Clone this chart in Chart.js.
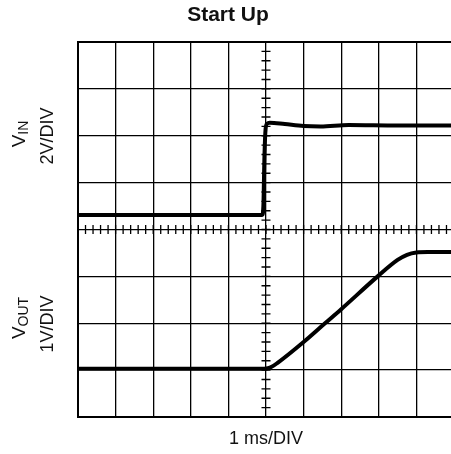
<!DOCTYPE html>
<html>
<head>
<meta charset="utf-8">
<script src="https://cdn.jsdelivr.net/npm/chart.js@4"></script>
<style>
  html, body { margin: 0; padding: 0; background: #fff; overflow: hidden; }
  #wrap { width: 460px; height: 454px; }
</style>
</head>
<body>
<div id="wrap"><canvas id="scope" width="460" height="454"></canvas></div>
<script>
// time in divisions (1 ms/DIV), amplitude in divisions from the bottom of the screen
const vinTime = [0, 4.9, 4.93, 4.96, 4.99, 5.03, 5.1, 5.5, 6.0, 6.45, 7.2, 8.5, 10];
const vinLevel = [4.31, 4.31, 4.5, 5.6, 6.15, 6.26, 6.28, 6.25, 6.21, 6.2, 6.23, 6.22, 6.22];

const voutTime = [0, 4.95, 5.05, 5.15, 5.3, 6.0, 6.57, 7.0, 7.97, 8.5, 8.75, 9.0, 9.3, 10];
const voutLevel = [1.03, 1.03, 1.04, 1.07, 1.15, 1.6, 2.0, 2.3, 3.0, 3.35, 3.46, 3.51, 3.52, 3.52];

const xDivs = [0, 10];
const yDivs = [0, 8];

const titleText = "Start Up";
const xLabel = "1 ms/DIV";
const vinLabel = ["V", "IN", "2V/DIV"];
const voutLabel = ["V", "OUT", "1V/DIV"];

const toPoints = (xs, ys) => xs.map((x, i) => ({ x, y: ys[i] }));
const FONT = "'Liberation Sans', Arial, Helvetica, sans-serif";

// minor ticks along the centre cross-hair
const centerTicks = {
  id: "centerTicks",
  beforeDatasetsDraw(chart) {
    const { ctx, scales } = chart;
    const sx = scales.x, sy = scales.y;
    const cx = sx.getPixelForValue((xDivs[0] + xDivs[1]) / 2);
    const cy = sy.getPixelForValue((yDivs[0] + yDivs[1]) / 2);
    ctx.save();
    ctx.strokeStyle = "#000";
    ctx.lineWidth = 1.3;
    ctx.beginPath();
    for (let i = xDivs[0] * 5; i <= xDivs[1] * 5; i++) {
      const px = sx.getPixelForValue(i / 5);
      ctx.moveTo(px, cy - 4.5);
      ctx.lineTo(px, cy + 4.5);
    }
    for (let i = yDivs[0] * 5; i <= yDivs[1] * 5; i++) {
      const py = sy.getPixelForValue(i / 5);
      ctx.moveTo(cx - 4.5, py);
      ctx.lineTo(cx + 4.5, py);
    }
    ctx.stroke();
    ctx.restore();
  },
};

function drawSubLabel(ctx, parts, x, y) {
  ctx.save();
  ctx.translate(x, y);
  ctx.rotate(-Math.PI / 2);
  ctx.fillStyle = "#111";
  ctx.textBaseline = "alphabetic";
  ctx.textAlign = "left";
  ctx.font = "19px " + FONT;
  const wMain = ctx.measureText(parts[0]).width;
  ctx.font = "14px " + FONT;
  const wSub = ctx.measureText(parts[1]).width;
  const start = -(wMain + wSub) / 2;
  ctx.font = "19px " + FONT;
  ctx.fillText(parts[0], start, 0);
  ctx.font = "14px " + FONT;
  ctx.fillText(parts[1], start + wMain, 3);
  ctx.restore();
}

function drawRotated(ctx, text, x, y) {
  ctx.save();
  ctx.translate(x, y);
  ctx.rotate(-Math.PI / 2);
  ctx.fillStyle = "#111";
  ctx.textAlign = "center";
  ctx.textBaseline = "alphabetic";
  ctx.font = "18px " + FONT;
  ctx.fillText(text, 0, 0);
  ctx.restore();
}

const labels = {
  id: "labels",
  afterDraw(chart) {
    const { ctx } = chart;
    ctx.save();
    ctx.fillStyle = "#111";
    ctx.textAlign = "center";
    ctx.textBaseline = "middle";
    ctx.font = "bold 21px " + FONT;
    ctx.fillText(titleText, 228, 15);
    ctx.font = "18px " + FONT;
    ctx.fillText(xLabel, 266, 439);
    ctx.restore();

    drawSubLabel(ctx, vinLabel, 25, 134);
    drawRotated(ctx, vinLabel[2], 53, 136);
    drawSubLabel(ctx, voutLabel, 25, 318);
    drawRotated(ctx, voutLabel[2], 53, 324);
  },
};

const edgeWidth = (c, lo, hi) => (c.tick && (c.tick.value === lo || c.tick.value === hi) ? 2 : 1.3);

new Chart(document.getElementById("scope"), {
  type: "scatter",
  data: {
    datasets: [
      {
        label: "VIN",
        data: toPoints(vinTime, vinLevel),
        showLine: true,
        borderColor: "#000",
        borderWidth: 4,
        pointRadius: 0,
        cubicInterpolationMode: "monotone",
      },
      {
        label: "VOUT",
        data: toPoints(voutTime, voutLevel),
        showLine: true,
        borderColor: "#000",
        borderWidth: 4,
        pointRadius: 0,
        cubicInterpolationMode: "monotone",
      },
    ],
  },
  options: {
    responsive: false,
    animation: false,
    devicePixelRatio: 1,
    layout: { padding: { left: 78, right: 6, top: 42, bottom: 37 } },
    plugins: {
      legend: { display: false },
      tooltip: { enabled: false },
      title: { display: false },
    },
    scales: {
      x: {
        type: "linear",
        min: xDivs[0],
        max: xDivs[1],
        ticks: { display: false, stepSize: 1 },
        grid: {
          color: "#000",
          lineWidth: (c) => edgeWidth(c, xDivs[0], xDivs[1]),
          drawTicks: false,
        },
        border: { display: true, color: "#000", width: 2 },
      },
      y: {
        type: "linear",
        min: yDivs[0],
        max: yDivs[1],
        ticks: { display: false, stepSize: 1 },
        grid: {
          color: "#000",
          lineWidth: (c) => edgeWidth(c, yDivs[0], yDivs[1]),
          drawTicks: false,
        },
        border: { display: true, color: "#000", width: 2 },
      },
    },
  },
  plugins: [centerTicks, labels],
});
</script>
</body>
</html>
